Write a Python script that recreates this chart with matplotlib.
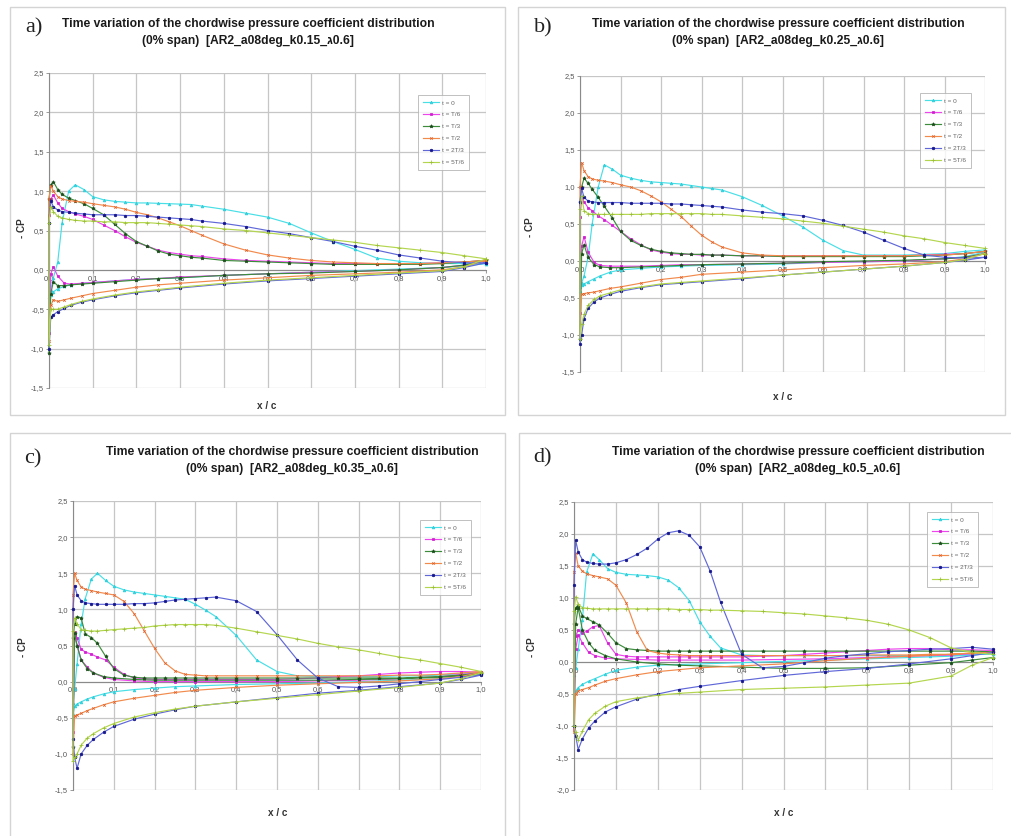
import matplotlib
matplotlib.use("Agg")
import matplotlib.pyplot as plt
from matplotlib.patches import Rectangle

# ---------------------------------------------------------------------------
# Chordwise stations (upper surface, lower surface)
XU = [0.0, 0.004, 0.01, 0.02, 0.03, 0.045, 0.06, 0.08, 0.1, 0.125, 0.15, 0.175,
      0.2, 0.225, 0.25, 0.275, 0.3, 0.325, 0.35, 0.4, 0.45, 0.5, 0.55, 0.6, 0.65,
      0.7, 0.75, 0.8, 0.85, 0.9, 0.95, 1.0]
XL = [0.0, 0.004, 0.01, 0.02, 0.035, 0.05, 0.075, 0.1, 0.15, 0.2, 0.25, 0.3, 0.4,
      0.5, 0.6, 0.7, 0.8, 0.9, 0.95, 1.0]

SERIES = ["t = 0", "t = T/6", "t = T/3", "t = T/2", "t = 2T/3", "t = 5T/6"]

# ---- a) k = 0.15 ----------------------------------------------------------
A_T0_UP = [-0.35, -0.25, -0.1, 0.1, 0.6, 1.0, 1.08, 1.02, 0.93, 0.89, 0.87, 0.86, 0.85, 0.85, 0.845, 0.84, 0.835, 0.83, 0.81, 0.77, 0.72, 0.67, 0.59, 0.47, 0.36, 0.26, 0.15, 0.11, 0.09, 0.08, 0.08, 0.08]
A_T6_UP = [0.7, 0.9, 0.95, 0.85, 0.78, 0.74, 0.71, 0.68, 0.64, 0.57, 0.5, 0.42, 0.35, 0.3, 0.25, 0.22, 0.2, 0.18, 0.17, 0.14, 0.12, 0.11, 0.1, 0.09, 0.08, 0.08, 0.08, 0.08, 0.08, 0.09, 0.1, 0.12]
A_T3_UP = [0.9, 1.08, 1.12, 1.02, 0.96, 0.91, 0.88, 0.84, 0.78, 0.7, 0.58, 0.46, 0.36, 0.3, 0.24, 0.2, 0.18, 0.16, 0.15, 0.12, 0.11, 0.1, 0.09, 0.08, 0.07, 0.07, 0.07, 0.07, 0.07, 0.08, 0.1, 0.12]
A_T2_UP = [0.9, 1.07, 1.0, 0.93, 0.9, 0.88, 0.87, 0.86, 0.84, 0.82, 0.8, 0.77, 0.73, 0.7, 0.66, 0.61, 0.56, 0.5, 0.44, 0.33, 0.25, 0.19, 0.15, 0.12, 0.1, 0.09, 0.08, 0.08, 0.08, 0.09, 0.1, 0.12]
A_2T3_UP = [0.6, 0.88, 0.8, 0.76, 0.74, 0.73, 0.72, 0.71, 0.7, 0.7, 0.7, 0.69, 0.69, 0.68, 0.67, 0.66, 0.65, 0.64, 0.62, 0.59, 0.55, 0.5, 0.46, 0.41, 0.36, 0.3, 0.25, 0.19, 0.15, 0.11, 0.09, 0.09]
A_5T6_UP = [0.6, 0.8, 0.74, 0.68, 0.66, 0.64, 0.63, 0.62, 0.62, 0.61, 0.61, 0.6, 0.6, 0.6, 0.59, 0.58, 0.57, 0.56, 0.55, 0.52, 0.5, 0.47, 0.44, 0.41, 0.38, 0.35, 0.31, 0.28, 0.25, 0.22, 0.18, 0.14]
A_T0_LO = [-0.35, -0.32, -0.28, -0.24, -0.21, -0.19, -0.17, -0.16, -0.14, -0.12, -0.11, -0.1, -0.07, -0.05, -0.03, -0.01, 0.01, 0.03, 0.05, 0.08]
A_T6_LO = [-0.8, -0.05, 0.04, -0.08, -0.17, -0.18, -0.17, -0.16, -0.14, -0.12, -0.11, -0.09, -0.07, -0.05, -0.03, -0.02, 0.0, 0.03, 0.06, 0.12]
A_T3_LO = [-1.05, -0.3, -0.15, -0.2, -0.2, -0.19, -0.18, -0.17, -0.15, -0.13, -0.11, -0.1, -0.07, -0.05, -0.04, -0.02, 0.0, 0.03, 0.06, 0.12]
A_T2_LO = [-0.9, -0.45, -0.38, -0.4, -0.38, -0.36, -0.33, -0.3, -0.26, -0.22, -0.19, -0.17, -0.13, -0.1, -0.07, -0.05, -0.03, 0.0, 0.04, 0.12]
A_2T3_LO = [-1.0, -0.6, -0.57, -0.53, -0.49, -0.45, -0.41, -0.38, -0.33, -0.29, -0.26, -0.23, -0.18, -0.14, -0.11, -0.08, -0.05, -0.02, 0.03, 0.09]
A_5T6_LO = [-0.95, -0.5, -0.5, -0.5, -0.47, -0.44, -0.4, -0.37, -0.32, -0.28, -0.25, -0.22, -0.17, -0.13, -0.1, -0.07, -0.04, -0.01, 0.04, 0.14]

# ---- b) k = 0.25 ----------------------------------------------------------
B_T0_UP = [-0.35, -0.3, -0.2, 0.05, 0.5, 1.0, 1.3, 1.24, 1.16, 1.12, 1.09, 1.07, 1.06, 1.05, 1.04, 1.02, 1.0, 0.98, 0.96, 0.87, 0.75, 0.61, 0.46, 0.28, 0.14, 0.08, 0.08, 0.08, 0.09, 0.1, 0.13, 0.15]
B_T6_UP = [0.6, 0.85, 0.8, 0.72, 0.68, 0.61, 0.56, 0.48, 0.4, 0.3, 0.22, 0.15, 0.12, 0.1, 0.09, 0.09, 0.08, 0.08, 0.08, 0.07, 0.07, 0.07, 0.07, 0.07, 0.07, 0.07, 0.07, 0.07, 0.08, 0.09, 0.1, 0.13]
B_T3_UP = [0.8, 1.0, 1.12, 1.05, 0.97, 0.86, 0.74, 0.58, 0.4, 0.28, 0.21, 0.16, 0.13, 0.11, 0.1, 0.09, 0.09, 0.08, 0.08, 0.07, 0.07, 0.06, 0.06, 0.06, 0.06, 0.06, 0.06, 0.06, 0.07, 0.08, 0.1, 0.13]
B_T2_UP = [1.0, 1.33, 1.22, 1.14, 1.11, 1.09, 1.08, 1.06, 1.03, 1.0, 0.95, 0.88, 0.8, 0.7, 0.6, 0.47, 0.35, 0.26, 0.19, 0.11, 0.08, 0.07, 0.07, 0.07, 0.07, 0.07, 0.07, 0.07, 0.08, 0.08, 0.1, 0.13]
B_2T3_UP = [0.8, 0.98, 0.86, 0.81, 0.8, 0.79, 0.79, 0.79, 0.79, 0.78, 0.78, 0.78, 0.78, 0.77, 0.77, 0.76, 0.75, 0.74, 0.73, 0.69, 0.66, 0.64, 0.61, 0.55, 0.48, 0.39, 0.28, 0.17, 0.08, 0.05, 0.04, 0.05]
B_5T6_UP = [0.7, 0.88, 0.68, 0.64, 0.63, 0.63, 0.63, 0.63, 0.63, 0.63, 0.63, 0.64, 0.64, 0.64, 0.64, 0.64, 0.64, 0.63, 0.63, 0.61, 0.59, 0.57, 0.54, 0.51, 0.47, 0.43, 0.39, 0.34, 0.3, 0.25, 0.21, 0.17]
B_T0_LO = [-0.4, -0.33, -0.31, -0.28, -0.24, -0.2, -0.15, -0.12, -0.1, -0.08, -0.07, -0.06, -0.05, -0.04, -0.02, -0.01, 0.0, 0.03, 0.06, 0.12]
B_T6_LO = [-0.7, 0.2, 0.33, 0.12, -0.02, -0.06, -0.07, -0.07, -0.07, -0.06, -0.05, -0.05, -0.04, -0.03, -0.02, -0.01, 0.0, 0.03, 0.05, 0.1]
B_T3_LO = [-1.05, 0.1, 0.22, 0.05, -0.05, -0.08, -0.09, -0.09, -0.08, -0.07, -0.06, -0.05, -0.04, -0.03, -0.01, 0.0, 0.01, 0.03, 0.05, 0.1]
B_T2_LO = [-1.0, -0.45, -0.44, -0.43, -0.42, -0.4, -0.37, -0.35, -0.3, -0.25, -0.22, -0.18, -0.15, -0.12, -0.09, -0.06, -0.04, -0.01, 0.03, 0.1]
B_2T3_LO = [-1.12, -1.0, -0.78, -0.64, -0.55, -0.5, -0.45, -0.41, -0.36, -0.32, -0.3, -0.28, -0.24, -0.19, -0.15, -0.11, -0.07, -0.02, 0.01, 0.05]
B_5T6_LO = [-1.05, -0.85, -0.72, -0.6, -0.52, -0.47, -0.43, -0.39, -0.35, -0.31, -0.29, -0.27, -0.23, -0.19, -0.15, -0.11, -0.07, -0.02, 0.02, 0.1]

# ---- c) k = 0.35 ----------------------------------------------------------
C_T0_UP = [-0.3, -0.1, 0.25, 0.8, 1.15, 1.42, 1.5, 1.4, 1.32, 1.27, 1.24, 1.22, 1.2, 1.18, 1.16, 1.14, 1.07, 0.99, 0.9, 0.64, 0.3, 0.14, 0.08, 0.07, 0.07, 0.07, 0.07, 0.08, 0.08, 0.09, 0.11, 0.13]
C_T6_UP = [0.5, 0.68, 0.6, 0.45, 0.41, 0.38, 0.34, 0.3, 0.2, 0.1, 0.05, 0.04, 0.03, 0.03, 0.03, 0.03, 0.03, 0.03, 0.03, 0.03, 0.03, 0.03, 0.04, 0.05, 0.07, 0.08, 0.1, 0.12, 0.13, 0.14, 0.14, 0.13]
C_T3_UP = [0.6, 0.8, 0.9, 0.88, 0.66, 0.61, 0.53, 0.35, 0.18, 0.09, 0.06, 0.05, 0.05, 0.05, 0.05, 0.05, 0.05, 0.05, 0.05, 0.05, 0.05, 0.05, 0.05, 0.05, 0.05, 0.05, 0.05, 0.05, 0.06, 0.07, 0.09, 0.12]
C_T2_UP = [1.2, 1.5, 1.4, 1.31, 1.28, 1.26, 1.24, 1.22, 1.2, 1.11, 0.94, 0.7, 0.46, 0.26, 0.15, 0.1, 0.09, 0.08, 0.08, 0.08, 0.08, 0.08, 0.08, 0.08, 0.08, 0.08, 0.08, 0.09, 0.09, 0.1, 0.12, 0.14]
C_2T3_UP = [1.0, 1.33, 1.2, 1.12, 1.09, 1.08, 1.07, 1.07, 1.07, 1.07, 1.08, 1.08, 1.09, 1.11, 1.13, 1.14, 1.15, 1.16, 1.17, 1.12, 0.97, 0.65, 0.3, 0.05, -0.07, -0.08, -0.06, -0.03, 0.0, 0.03, 0.06, 0.1]
C_5T6_UP = [0.7, 0.88, 0.8, 0.72, 0.71, 0.7, 0.7, 0.71, 0.72, 0.73, 0.74, 0.75, 0.77, 0.78, 0.79, 0.79, 0.79, 0.79, 0.78, 0.74, 0.69, 0.64, 0.59, 0.53, 0.48, 0.44, 0.39, 0.34, 0.3, 0.25, 0.2, 0.14]
C_T0_LO = [-0.45, -0.34, -0.31, -0.28, -0.24, -0.21, -0.17, -0.14, -0.11, -0.09, -0.07, -0.06, -0.04, -0.03, -0.02, 0.0, 0.02, 0.04, 0.07, 0.12]
C_T6_LO = [-0.7, 0.65, 0.5, 0.3, 0.2, 0.12, 0.06, 0.03, 0.01, 0.0, 0.0, 0.0, 0.0, 0.0, 0.01, 0.02, 0.04, 0.07, 0.1, 0.12]
C_T3_LO = [-0.9, 0.67, 0.5, 0.3, 0.18, 0.12, 0.07, 0.05, 0.03, 0.02, 0.02, 0.02, 0.02, 0.02, 0.02, 0.03, 0.04, 0.06, 0.08, 0.1]
C_T2_LO = [-1.0, -0.47, -0.46, -0.44, -0.4, -0.37, -0.32, -0.28, -0.23, -0.19, -0.15, -0.12, -0.08, -0.05, -0.03, -0.01, 0.01, 0.04, 0.07, 0.13]
C_2T3_LO = [-0.8, -1.05, -1.2, -1.0, -0.88, -0.8, -0.7, -0.62, -0.52, -0.45, -0.39, -0.34, -0.28, -0.22, -0.16, -0.12, -0.07, -0.02, 0.03, 0.09]
C_5T6_LO = [-1.1, -1.05, -1.0, -0.88, -0.78, -0.72, -0.64, -0.58, -0.49, -0.43, -0.38, -0.34, -0.28, -0.23, -0.18, -0.13, -0.08, -0.02, 0.04, 0.12]

# ---- d) k = 0.5 -----------------------------------------------------------
D_T0_UP = [-0.2, -0.1, 0.2, 0.66, 1.4, 1.69, 1.6, 1.46, 1.4, 1.37, 1.36, 1.35, 1.33, 1.28, 1.16, 0.96, 0.63, 0.4, 0.22, 0.11, 0.1, 0.1, 0.1, 0.1, 0.1, 0.1, 0.1, 0.1, 0.1, 0.11, 0.12, 0.13]
D_T6_UP = [0.3, 0.4, 0.5, 0.45, 0.48, 0.55, 0.57, 0.3, 0.12, 0.09, 0.08, 0.08, 0.08, 0.08, 0.08, 0.08, 0.08, 0.08, 0.08, 0.08, 0.09, 0.1, 0.12, 0.14, 0.16, 0.18, 0.2, 0.21, 0.21, 0.19, 0.19, 0.18]
D_T3_UP = [0.6, 0.85, 0.88, 0.72, 0.68, 0.63, 0.58, 0.45, 0.3, 0.21, 0.19, 0.18, 0.17, 0.17, 0.17, 0.17, 0.17, 0.17, 0.17, 0.17, 0.17, 0.17, 0.17, 0.17, 0.17, 0.17, 0.17, 0.17, 0.17, 0.17, 0.17, 0.16]
D_T2_UP = [1.4, 1.7, 1.5, 1.42, 1.38, 1.35, 1.33, 1.3, 1.2, 0.92, 0.47, 0.18, 0.14, 0.12, 0.11, 0.1, 0.1, 0.1, 0.1, 0.1, 0.1, 0.1, 0.1, 0.1, 0.1, 0.11, 0.11, 0.11, 0.12, 0.12, 0.14, 0.15]
D_2T3_UP = [1.2, 1.9, 1.72, 1.6, 1.56, 1.54, 1.53, 1.53, 1.55, 1.6, 1.68, 1.78, 1.92, 2.02, 2.05, 1.98, 1.8, 1.42, 0.93, 0.12, -0.09, -0.07, -0.01, 0.06, 0.1, 0.13, 0.16, 0.18, 0.2, 0.21, 0.23, 0.2]
D_5T6_UP = [0.8, 1.02, 0.9, 0.85, 0.84, 0.83, 0.83, 0.83, 0.83, 0.83, 0.83, 0.83, 0.83, 0.83, 0.82, 0.82, 0.82, 0.81, 0.81, 0.8, 0.79, 0.77, 0.75, 0.72, 0.69, 0.65, 0.59, 0.5, 0.38, 0.22, 0.15, 0.12]
D_T0_LO = [-0.5, -0.45, -0.4, -0.35, -0.3, -0.26, -0.19, -0.13, -0.08, -0.05, -0.04, -0.03, -0.01, 0.01, 0.03, 0.05, 0.07, 0.09, 0.11, 0.13]
D_T6_LO = [-1.05, 0.2, 0.42, 0.3, 0.15, 0.1, 0.06, 0.05, 0.04, 0.03, 0.03, 0.03, 0.03, 0.04, 0.05, 0.07, 0.09, 0.11, 0.13, 0.15]
D_T3_LO = [-1.0, 0.6, 0.85, 0.5, 0.3, 0.18, 0.1, 0.05, 0.0, -0.03, -0.05, -0.06, -0.08, -0.1, -0.1, -0.09, -0.05, -0.01, 0.03, 0.07]
D_T2_LO = [-1.1, -0.5, -0.45, -0.43, -0.4, -0.36, -0.3, -0.26, -0.2, -0.15, -0.12, -0.09, -0.06, -0.03, 0.02, 0.06, 0.09, 0.12, 0.14, 0.15]
D_2T3_LO = [-1.0, -1.15, -1.37, -1.2, -1.03, -0.92, -0.78, -0.7, -0.58, -0.5, -0.43, -0.38, -0.29, -0.21, -0.15, -0.1, -0.03, 0.05, 0.1, 0.15]
D_5T6_LO = [-1.0, -1.1, -1.22, -1.08, -0.9, -0.8, -0.69, -0.62, -0.56, -0.52, -0.49, -0.47, -0.43, -0.41, -0.39, -0.36, -0.33, -0.22, -0.05, 0.07]

X_TICKS = [0.0, 0.1, 0.2, 0.3, 0.4, 0.5, 0.6, 0.7, 0.8, 0.9, 1.0]
Y_TICKS_ABC = [-1.5, -1.0, -0.5, 0.0, 0.5, 1.0, 1.5, 2.0, 2.5]
Y_TICKS_D = [-2.0, -1.5, -1.0, -0.5, 0.0, 0.5, 1.0, 1.5, 2.0, 2.5]

# ---------------------------------------------------------------------------
STYLES = [
    dict(color="#48dfe6", marker="^", ms=1.9, mfc="#30d0dc", mec="#30d0dc"),
    dict(color="#ec46ec", marker="s", ms=1.6, mfc="#d020d0", mec="#d020d0"),
    dict(color="#3c8c3c", marker="*", ms=2.6, mfc="#1d4f1d", mec="#1d4f1d"),
    dict(color="#f28a4c", marker="x", ms=1.8, mfc="#e0602a", mec="#e0602a"),
    dict(color="#6068d8", marker="o", ms=1.8, mfc="#14148c", mec="#14148c"),
    dict(color="#b4d64e", marker="+", ms=2.2, mfc="#98c030", mec="#98c030"),
]

W, H = 1011, 836
fig = plt.figure(figsize=(W / 100, H / 100), dpi=100)
fig.patch.set_facecolor("white")
FONT = ["Liberation Sans", "DejaVu Sans"]


def box(l, t, r, b):
    return [l / W, 1 - b / H, (r - l) / W, (b - t) / H]


def fmt(v):
    return f"{v:.1f}".replace(".", ",")


panels = [
    dict(letter="a)", tag="k0.15",
         ups=[A_T0_UP, A_T6_UP, A_T3_UP, A_T2_UP, A_2T3_UP, A_5T6_UP],
         los=[A_T0_LO, A_T6_LO, A_T3_LO, A_T2_LO, A_2T3_LO, A_5T6_LO],
         frame=(10, 7, 505, 415), ax=(49, 73, 486, 388), yt=Y_TICKS_ABC,
         title=(248, 24, 41), letter_xy=(34, 28), ylab=(22, 228), xlab=(267, 406),
         leg=(469, 95)),
    dict(letter="b)", tag="k0.25",
         ups=[B_T0_UP, B_T6_UP, B_T3_UP, B_T2_UP, B_2T3_UP, B_5T6_UP],
         los=[B_T0_LO, B_T6_LO, B_T3_LO, B_T2_LO, B_2T3_LO, B_5T6_LO],
         frame=(518, 7, 1005, 415), ax=(580, 76, 985, 372), yt=Y_TICKS_ABC,
         title=(778, 24, 41), letter_xy=(543, 28), ylab=(530, 227), xlab=(783, 397),
         leg=(971, 93)),
    dict(letter="c)", tag="k0.35",
         ups=[C_T0_UP, C_T6_UP, C_T3_UP, C_T2_UP, C_2T3_UP, C_5T6_UP],
         los=[C_T0_LO, C_T6_LO, C_T3_LO, C_T2_LO, C_2T3_LO, C_5T6_LO],
         frame=(10, 433, 505, 840), ax=(73, 501, 481, 790), yt=Y_TICKS_ABC,
         title=(292, 452, 469), letter_xy=(33, 459), ylab=(23, 647), xlab=(278, 813),
         leg=(471, 520)),
    dict(letter="d)", tag="k0.5",
         ups=[D_T0_UP, D_T6_UP, D_T3_UP, D_T2_UP, D_2T3_UP, D_5T6_UP],
         los=[D_T0_LO, D_T6_LO, D_T3_LO, D_T2_LO, D_2T3_LO, D_5T6_LO],
         frame=(519, 433, 1015, 840), ax=(574, 502, 993, 790), yt=Y_TICKS_D,
         title=(798, 452, 469), letter_xy=(543, 458), ylab=(532, 647), xlab=(784, 813),
         leg=(978, 512)),
]

for p in panels:
    l, t, r, b = p["frame"]
    fig.add_artist(Rectangle((l / W, 1 - b / H), (r - l) / W, (b - t) / H,
                             transform=fig.transFigure, fill=False,
                             edgecolor="#d4d4d4", linewidth=1.0))

    ax = fig.add_axes(box(*p["ax"]))
    handles = []
    for up, lo, st, name in zip(p["ups"], p["los"], STYLES, SERIES):
        xs = XU[::-1] + XL
        ys = up[::-1] + lo
        h, = ax.plot(xs, ys, color=st["color"], lw=0.85, marker=st["marker"],
                     ms=st["ms"], mfc=st["mfc"], mec=st["mec"], mew=0.55,
                     label=name, clip_on=False, zorder=3)
        handles.append(h)

    yt = p["yt"]
    ax.set_xlim(0, 1)
    ax.set_ylim(yt[0], yt[-1])
    ax.set_xticks(X_TICKS)
    ax.set_xticklabels([fmt(v) for v in X_TICKS])
    ax.set_yticks(yt)
    ax.set_yticklabels([fmt(v) for v in yt])
    ax.grid(True, color="#c6c6c6", linewidth=0.9, zorder=0)
    ax.set_axisbelow(True)
    for s in ("top", "right"):
        ax.spines[s].set_visible(False)
    ax.spines["bottom"].set_position(("data", 0))
    ax.spines["bottom"].set_color("#8a8a8a")
    ax.spines["left"].set_color("#8a8a8a")
    ax.spines["bottom"].set_linewidth(0.8)
    ax.spines["left"].set_linewidth(0.8)
    ax.tick_params(axis="both", length=2, width=0.6, colors="#8a8a8a",
                   labelsize=5.4, labelcolor="#555555", pad=1.5)
    for lab in ax.get_xticklabels() + ax.get_yticklabels():
        lab.set_family(FONT)

    leg = ax.legend(handles=handles, loc="upper right",
                    bbox_to_anchor=(p["leg"][0] / W, 1 - p["leg"][1] / H),
                    bbox_transform=fig.transFigure, fontsize=4.6,
                    frameon=True, fancybox=False, edgecolor="#b0b0b0",
                    borderpad=0.8, labelspacing=1.0, handlelength=2.6,
                    handletextpad=0.4, borderaxespad=0)
    leg.get_frame().set_linewidth(0.7)
    for txt in leg.get_texts():
        txt.set_color("#666666")
        txt.set_family(FONT)

    cx, y1, y2 = p["title"]
    fig.text(cx / W, 1 - y1 / H,
             "Time variation of the chordwise pressure coefficient distribution",
             ha="center", va="center", fontsize=8.7, fontweight="bold",
             family=FONT, color="#1a1a1a")
    fig.text(cx / W, 1 - y2 / H,
             f"(0% span)  [AR2_a08deg_{p['tag']}_\u05d20.6]",
             ha="center", va="center", fontsize=8.7, fontweight="bold",
             family=FONT, color="#1a1a1a")
    fig.text(p["letter_xy"][0] / W, 1 - p["letter_xy"][1] / H, p["letter"],
             ha="center", va="center", fontsize=16,
             family=["Liberation Serif", "DejaVu Serif"], color="#222222")
    fig.text(p["ylab"][0] / W, 1 - p["ylab"][1] / H, "- CP", rotation=90,
             ha="center", va="center", fontsize=7.2, fontweight="bold",
             family=FONT, color="#333333")
    fig.text(p["xlab"][0] / W, 1 - p["xlab"][1] / H, "x / c",
             ha="center", va="center", fontsize=7.2, fontweight="bold",
             family=FONT, color="#333333")

fig.savefig("out.png", dpi=100, facecolor="white")
